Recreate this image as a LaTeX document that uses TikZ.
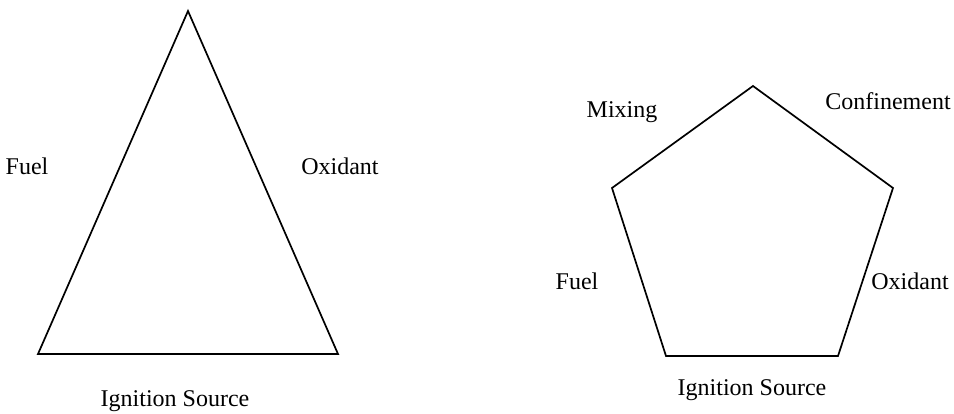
\documentclass[tikz,border=0pt]{standalone}
\usepackage{fontspec}
\setmainfont{Liberation Serif}

\tikzset{
    lado/.style={line width=1.7pt, line join=miter},
    etiqueta/.style={anchor=base, inner sep=0pt}
}

\begin{document}
\begin{tikzpicture}[
    x=1pt, y=-1pt,
    font=\fontsize{24}{28}\selectfont
]

% Marco fijo de la figura
\useasboundingbox (0,0) rectangle (954,414);

% 1. Triángulo del fuego
\coordinate (t_sup) at (188,11);
\coordinate (t_izq) at (38,354);
\coordinate (t_der) at (338,354);
\draw[lado] (t_sup) -- (t_der) -- (t_izq) -- cycle;

\node[etiqueta] (t_fuel) at (27,175) {Fuel};
\node[etiqueta] (t_oxi) at (340,175) {Oxidant};
\node[etiqueta] (t_ign) at (175,406) {Ignition Source};

% 2. Pentágono de la explosión
\coordinate (p_sup) at (753,86);
\coordinate (p_der) at (893,188);
\coordinate (p_infder) at (838,356);
\coordinate (p_infizq) at (666,356);
\coordinate (p_izq) at (612,188);
\draw[lado] (p_sup) -- (p_der) -- (p_infder) -- (p_infizq) -- (p_izq) -- cycle;

\node[etiqueta] (p_mix) at (622,118) {Mixing};
\node[etiqueta] (p_conf) at (888,110) {Confinement};
\node[etiqueta] (p_fuel) at (577,290) {Fuel};
\node[etiqueta] (p_oxi) at (910,290) {Oxidant};
\node[etiqueta] (p_ign) at (752,395) {Ignition Source};

\end{tikzpicture}
\end{document}
